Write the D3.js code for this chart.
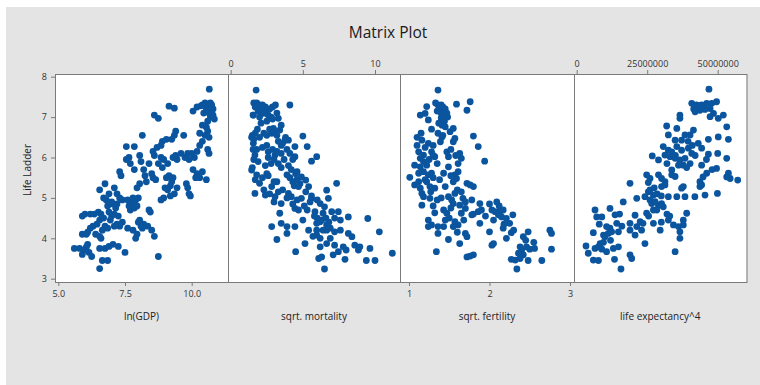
<!DOCTYPE html>
<html>
<head>
<meta charset="utf-8">
<script src="https://cdn.jsdelivr.net/npm/d3@7"></script>
<style>
  body { margin: 0; background: #fff; }
  svg { display: block; font-family: "Open Sans", "DejaVu Sans", sans-serif; }
</style>
</head>
<body>
<svg id="chart" width="760" height="385"></svg>
<script>
// ---- data ----
const yTicks = [3, 4, 5, 6, 7, 8];
const panelLabels = ["ln(GDP)", "sqrt. mortality", "sqrt. fertility", "life expectancy^4"];

const gdpTicks = [5.0, 7.5, 10.0];
const mortTicks = [0, 5, 10];
const fertTicks = [1, 2, 3];
const lifeTicks = [0, 25000000, 50000000];

// [ln(GDP), Life Ladder]
const gdpPoints = [
  [10.66,7.69],[10.5,7.35],[10.6,7.3],[10.7,7.35],[10.75,7.3],[10.8,7.2],[10.4,7.3],[10.35,7.28],[10.55,7.2],[10.65,7.1],
  [10.7,7.0],[10.8,7.05],[10.85,6.95],[10.75,7.15],[10.45,7.1],[10.6,6.9],[10.05,7.15],[10.2,7.25],[9.15,7.27],[9.35,7.22],
  [8.6,7.05],[8.75,6.97],[10.55,6.75],[10.6,6.65],[10.5,6.55],[10.65,6.5],[10.4,6.4],[10.3,6.3],[10.6,6.2],[10.65,6.1],
  [10.2,6.15],[10.1,6.0],[10.0,6.1],[9.85,6.1],[9.75,6.0],[9.9,5.95],[10.05,5.7],[10.2,5.6],[10.3,5.5],[10.4,5.65],
  [10.15,5.5],[10.55,5.45],[9.8,5.35],[9.85,5.25],[9.9,5.1],[9.95,5.05],[10.4,6.8],[10.3,6.6],[9.4,6.65],[9.35,6.55],
  [9.25,6.45],[9.7,6.55],[9.05,6.45],[8.9,6.4],[8.85,6.3],[8.7,6.25],[8.55,6.15],[8.6,6.05],[8.85,6.0],[8.95,5.95],
  [9.1,5.85],[9.3,6.0],[9.4,6.05],[9.45,5.95],[9.6,6.1],[8.75,5.85],[8.9,5.75],[8.4,5.85],[8.5,5.6],[8.55,5.5],
  [8.65,5.45],[8.15,6.55],[8.05,6.05],[8.1,5.9],[8.2,5.7],[8.25,5.55],[8.3,5.4],[8.05,5.35],[7.95,5.25],[7.85,5.7],
  [9.05,5.5],[9.15,5.55],[9.0,5.25],[9.1,5.2],[9.2,5.3],[9.3,5.5],[9.35,5.1],[9.45,5.25],[9.25,5.4],[8.95,5.0],
  [8.85,4.95],[9.2,5.05],[7.55,6.27],[7.65,6.0],[7.85,6.27],[7.55,5.95],[7.7,5.85],[7.3,5.65],[7.35,5.55],[7.1,5.25],
  [7.2,5.1],[8.4,4.7],[8.45,4.65],[8.5,4.2],[8.6,4.05],[8.75,3.55],[8.35,4.3],[8.2,4.35],[8.1,4.3],[8.05,4.45],
  [8.15,4.25],[8.0,4.4],[7.95,4.1],[7.9,4.0],[7.8,4.2],[7.8,5.0],[7.75,4.85],[7.9,4.95],[7.85,4.75],[7.95,4.8],
  [8.0,5.0],[7.7,4.7],[7.6,4.95],[7.65,4.8],[7.4,4.95],[7.3,5.0],[7.2,4.85],[7.15,4.75],[7.1,4.6],[7.25,4.55],
  [7.4,4.4],[7.3,4.3],[7.0,4.55],[6.95,4.45],[6.9,4.65],[6.85,4.8],[6.8,4.95],[6.7,5.0],[6.75,5.35],[6.55,5.2],
  [6.9,5.1],[7.0,4.9],[7.05,4.85],[5.9,4.55],[6.0,4.6],[6.2,4.6],[6.35,4.6],[6.5,4.65],[6.6,4.6],[6.7,4.5],
  [6.55,4.45],[6.45,4.35],[6.3,4.3],[6.2,4.25],[6.05,4.1],[5.9,4.1],[6.1,4.15],[6.4,4.1],[6.55,4.05],[6.65,4.2],
  [6.75,4.3],[6.85,4.25],[6.6,4.0],[5.6,3.75],[5.8,3.75],[5.95,3.7],[6.05,3.78],[5.9,3.6],[6.15,3.65],[6.25,3.55],
  [6.1,3.85],[6.55,3.75],[6.65,3.45],[6.55,3.25],[6.85,3.45],[6.75,3.75],[6.9,3.8],[7.05,3.85],[7.25,3.8],[7.5,3.65],
  [7.6,4.25],[7.1,4.3],[7.2,4.35]
];

// [sqrt. mortality, Life Ladder]
const mortPoints = [
  [1.76,7.67],[4.1,7.3],[1.57,7.05],[2.26,7.1],[3.3,6.97],[2.96,6.72],[3.4,6.68],[2.84,6.6],[1.45,6.5],[2.5,6.55],
  [5.0,6.53],[3.76,6.43],[4.0,6.43],[1.57,6.35],[3.5,6.3],[4.45,6.27],[5.3,6.27],[1.68,6.06],[2.6,6.14],[3.07,6.06],
  [4.1,6.1],[4.45,6.02],[5.96,6.02],[5.6,5.91],[1.45,5.69],[2.5,5.6],[1.8,5.57],[3.9,5.57],[4.6,5.65],[4.9,5.52],
  [5.2,5.44],[2.0,5.36],[3.2,5.4],[2.84,5.28],[4.7,5.28],[5.4,5.28],[7.34,5.36],[1.68,5.11],[2.4,5.07],[3.07,5.03],
  [4.0,5.11],[4.2,5.03],[4.9,4.99],[5.6,4.99],[6.65,5.19],[6.77,4.99],[3.5,4.86],[4.45,4.74],[4.7,4.7],[5.3,4.7],
  [5.84,4.66],[6.2,4.86],[6.5,4.78],[6.4,4.62],[7.0,4.66],[7.46,4.66],[8.15,4.53],[9.5,4.49],[3.4,4.62],[5.0,4.45],
  [5.96,4.37],[6.2,4.41],[6.65,4.33],[6.9,4.25],[6.4,4.2],[5.96,4.2],[2.84,4.29],[3.5,4.37],[3.9,4.29],[4.45,4.29],
  [3.9,4.12],[3.2,3.97],[5.96,4.08],[6.2,4.0],[6.65,4.2],[7.2,4.16],[7.6,4.2],[8.15,4.12],[8.4,4.04],[8.6,3.83],
  [8.95,3.79],[10.3,4.16],[5.15,3.87],[6.2,3.79],[6.65,3.87],[7.2,3.83],[7.8,3.79],[8.0,3.71],[8.85,3.71],[9.65,3.75],
  [4.5,3.67],[6.1,3.5],[6.3,3.54],[7.1,3.59],[7.46,3.67],[7.92,3.48],[9.4,3.45],[10.0,3.45],[11.2,3.63],[6.5,3.24],
  [1.6,7.35],[1.8,7.35],[2.0,7.3],[2.2,7.3],[2.4,7.25],[2.1,7.2],[2.5,7.15],[2.7,7.2],[2.9,7.25],[3.1,7.3],
  [2.3,7.1],[1.9,7.15],[1.7,7.25],[2.6,7.05],[2.8,7.0],[1.55,7.05],[3.2,7.1],[2.0,7.0],[1.5,6.55],[1.6,6.45],
  [1.7,6.6],[2.0,6.5],[2.3,6.6],[2.7,6.7],[3.0,6.65],[3.2,6.55],[3.3,6.4],[3.6,6.35],[3.8,6.5],[1.55,6.2],
  [1.8,6.2],[2.2,6.25],[2.5,6.3],[2.9,6.2],[3.2,6.15],[3.5,6.1],[3.7,5.95],[1.6,5.95],[1.9,5.9],[2.4,5.8],
  [2.8,5.85],[3.3,5.85],[3.5,5.75],[4.0,5.8],[4.2,5.7],[4.5,5.6],[4.6,5.45],[4.3,5.4],[4.1,5.5],[1.5,5.75],
  [1.7,5.45],[2.2,5.5],[2.6,5.55],[3.0,5.4],[3.6,5.2],[3.9,5.0],[4.3,4.85],[4.6,4.95],[5.1,4.8],[5.5,4.9],
  [5.8,4.55],[6.0,4.5],[6.3,4.45],[6.6,4.5],[6.8,4.4],[7.2,4.5],[7.6,4.45],[5.4,4.2],[5.7,4.05],[6.9,4.0],
  [2.3,5.2],[2.7,5.1],[3.3,5.15],[3.0,4.9],[2.6,6.0],[3.0,5.95],[3.9,6.2],[4.3,5.95],[1.85,6.7],[2.1,6.85],
  [2.5,6.9],[2.9,6.95],[3.5,6.8],[4.4,5.3],[4.8,5.35],[5.2,5.15],[5.6,5.05],[6.0,4.95]
];

// [sqrt. fertility, Life Ladder]
const fertPoints = [
  [1.36,7.67],[1.59,7.32],[1.76,7.38],[1.72,7.17],[1.14,7.05],[1.22,7.26],[1.2,7.09],[1.24,6.93],[1.45,6.76],[1.51,6.64],
  [1.55,6.72],[1.8,6.53],[1.1,6.5],[1.16,6.43],[1.24,6.35],[1.41,6.51],[1.39,6.39],[1.55,6.39],[1.57,6.47],[1.86,6.27],
  [1.12,6.14],[1.18,6.06],[1.14,5.98],[1.28,6.14],[1.32,6.02],[1.47,6.14],[1.49,6.02],[1.63,6.1],[1.65,5.98],[1.61,5.85],
  [1.94,5.91],[1.07,5.81],[1.14,5.77],[1.22,5.81],[1.49,5.77],[1.01,5.51],[1.12,5.61],[1.18,5.65],[1.24,5.57],[1.28,5.61],
  [1.43,5.61],[1.57,5.57],[1.59,5.48],[1.61,5.65],[1.07,5.32],[1.14,5.24],[1.16,5.11],[1.22,5.4],[1.26,5.28],[1.32,5.24],
  [1.45,5.28],[1.72,5.36],[1.76,5.32],[1.8,5.28],[1.18,5.03],[1.16,4.82],[1.26,4.99],[1.49,5.03],[1.53,4.95],[1.57,5.11],
  [1.55,4.86],[1.63,4.82],[1.67,4.99],[1.7,4.74],[1.78,4.95],[1.88,4.86],[1.32,4.63],[1.43,4.7],[1.47,4.62],[1.65,4.62],
  [1.78,4.58],[1.86,4.66],[1.88,4.37],[2.09,4.9],[2.03,4.7],[2.07,4.66],[2.13,4.66],[2.17,4.7],[2.11,4.58],[2.15,4.53],
  [2.21,4.49],[2.29,4.58],[2.25,4.37],[2.17,4.25],[1.24,4.45],[1.28,4.33],[1.24,4.29],[1.36,4.29],[1.43,4.29],[1.57,4.41],
  [1.61,4.33],[1.55,4.29],[1.36,4.12],[1.49,3.97],[1.63,3.87],[1.7,4.12],[1.72,4.04],[2.0,4.16],[2.03,3.83],[2.05,3.87],
  [2.21,4.0],[2.27,4.14],[2.42,4.04],[2.48,4.16],[2.75,4.2],[2.77,4.12],[1.34,3.67],[1.72,3.54],[1.76,3.56],[1.8,3.59],
  [2.38,3.79],[2.4,3.71],[2.46,3.79],[2.5,3.73],[2.56,3.75],[2.36,3.63],[2.42,3.59],[2.27,3.48],[2.32,3.46],[2.38,3.5],
  [2.48,3.45],[2.65,3.45],[2.77,3.73],[2.34,3.24],[1.33,7.35],[1.36,7.3],[1.4,7.3],[1.42,7.25],[1.38,7.2],[1.45,7.2],
  [1.4,7.1],[1.43,7.05],[1.47,7.1],[1.35,7.15],[1.48,7.0],[1.4,6.98],[1.37,6.85],[1.41,6.8],[1.44,6.9],[1.36,6.6],
  [1.42,6.55],[1.2,6.25],[1.3,6.3],[1.18,5.9],[1.25,5.95],[1.35,5.85],[1.52,6.2],[1.58,6.05],[1.2,5.45],[1.3,5.5],
  [1.52,5.55],[1.55,5.4],[1.38,5.45],[1.6,5.2],[1.65,5.15],[1.4,5.0],[1.35,4.95],[1.3,4.8],[1.52,4.75],[1.7,4.9],
  [1.45,4.45],[1.5,4.5],[1.68,4.45],[1.95,4.55],[2.05,4.45],[2.18,4.35],[2.3,4.2],[2.55,3.9],[2.45,3.95],[1.6,4.15],
  [1.8,4.6],[1.9,4.7],[2.0,4.85],[2.12,4.8],[1.1,6.3],[1.15,6.6],[1.28,6.7],[1.3,6.05],[1.12,5.4],[1.27,5.15]
];

// [life expectancy^4, Life Ladder]
const lifePoints = [
  [46.9e6,7.69],[40.8e6,7.34],[42.6e6,7.26],[44.3e6,7.3],[46.1e6,7.34],[47.9e6,7.34],[49.6e6,7.38],[42e6,7.13],[43.7e6,7.17],[45.5e6,7.19],
  [47.3e6,7.21],[48.5e6,7.09],[52e6,7.05],[47.3e6,7.01],[50.2e6,6.97],[36.6e6,7.05],[36.6e6,6.97],[31.9e6,6.78],[35.5e6,6.72],[41.4e6,6.68],
  [53.2e6,6.76],[38.4e6,6.56],[40.2e6,6.56],[37.2e6,6.43],[34.9e6,6.43],[32.5e6,6.56],[43.1e6,6.35],[46.7e6,6.45],[50.2e6,6.51],[53.8e6,6.45],
  [44.3e6,6.23],[30.7e6,6.27],[32.5e6,6.18],[33.7e6,6.14],[35.5e6,6.27],[37.2e6,6.18],[39.6e6,6.23],[40.8e6,6.1],[31.3e6,6.06],[33.1e6,6.02],
  [34.9e6,5.98],[36.6e6,5.94],[38.4e6,5.98],[40.2e6,5.85],[36.1e6,5.81],[37.8e6,5.81],[26.8e6,6.04],[29e6,5.94],[46.7e6,6.08],[50e6,6.1],
  [53.2e6,5.98],[44.3e6,5.81],[46.1e6,5.61],[49.6e6,5.73],[53.8e6,5.61],[54.4e6,5.48],[53.2e6,5.52],[57.1e6,5.44],[24.8e6,5.57],[26e6,5.48],
  [25.4e6,5.38],[29e6,5.57],[30.1e6,5.48],[31.3e6,5.4],[33.7e6,5.69],[33.7e6,5.57],[34.9e6,5.53],[18.9e6,5.36],[30.1e6,5.28],[31.3e6,5.32],
  [37.8e6,5.28],[43.7e6,5.4],[44.3e6,5.32],[44.8e6,5.52],[43.7e6,5.28],[21.3e6,4.99],[24.2e6,5.03],[25.4e6,5.15],[26e6,4.95],[26.6e6,4.86],
  [27.2e6,5.07],[27.8e6,4.91],[29e6,4.82],[30.1e6,4.86],[30.7e6,4.78],[28.4e6,4.7],[27.2e6,4.7],[24.8e6,4.62],[32.5e6,5.03],[35.5e6,5.03],
  [38.4e6,5.03],[41.9e6,5.03],[45.5e6,5.07],[49.9e6,5.11],[37.2e6,5.24],[16.5e6,4.9],[20.7e6,4.57],[18.9e6,4.37],[27.2e6,4.37],[32.5e6,4.45],
  [34.3e6,4.33],[36.1e6,4.29],[37.8e6,4.33],[39e6,4.62],[37.8e6,4.45],[36.6e6,4.16],[36.6e6,4.0],[34.9e6,3.67],[29.6e6,4.2],[6.5e6,4.7],
  [7.1e6,4.53],[8.9e6,4.53],[11.8e6,4.74],[13.6e6,4.58],[15.2e6,4.6],[10.6e6,4.29],[11.8e6,4.25],[12.4e6,4.16],[11.2e6,4.12],[9.5e6,4.08],
  [14.8e6,4.16],[14.2e6,4.37],[5.9e6,4.14],[18.9e6,4.2],[21.3e6,4.29],[23.5e6,4.37],[22.5e6,4.41],[20.7e6,4.08],[23e6,4.2],[3.3e6,3.81],
  [4.1e6,3.63],[6.5e6,3.75],[7.7e6,3.79],[8.3e6,3.87],[8.9e6,3.73],[10.6e6,3.67],[13e6,3.75],[14.8e6,3.79],[5.9e6,3.46],[7.7e6,3.45],
  [13.4e6,3.48],[18.9e6,3.59],[19.5e6,3.5],[24.2e6,3.87],[15.7e6,3.24],[10e6,4.04],[42.5e6,7.3],[44e6,7.22],[45e6,7.28],[41.5e6,7.2],
  [39.5e6,6.4],[41e6,6.3],[42e6,6.05],[39e6,5.75],[35e6,6.05],[32e6,5.85],[27.5e6,5.25],[28.5e6,5.1],[26e6,5.2],[30e6,5.05],
  [32e6,4.6],[33e6,4.55],[30e6,4.4],[25.5e6,4.55],[8e6,4.35],[12e6,3.95],[16e6,4.3],[9.5e6,3.9],[46e6,5.95],[48e6,5.7]
];

// ---- layout ----
const svg = d3.select("#chart");
const plotTop = 74, plotBottom = 282, plotLeft = 55;
const panelEdges = [55, 228, 400, 574, 746.5];
const dotColor = "#0b559f";
const axisColor = "#7a7a7a";
const textColor = "#333";

svg.append("rect").attr("x", 6).attr("y", 7).attr("width", 754).attr("height", 378).attr("fill", "#e4e4e4");

svg.append("text")
  .attr("x", 388).attr("y", 38)
  .attr("text-anchor", "middle")
  .attr("font-size", 15.5)
  .attr("fill", "#1a1a1a")
  .text("Matrix Plot");

const y = d3.scaleLinear().domain([3, 8]).range([278.7, 76.7]);

const panels = [
  { pts: gdpPoints, ticks: gdpTicks, where: "bottom", fmt: d3.format(".1f"), domain: [5.0, 10.0], px: [58.3, 191.7] },
  { pts: mortPoints, ticks: mortTicks, where: "top", fmt: d3.format("d"), domain: [0, 10], px: [230.7, 375] },
  { pts: fertPoints, ticks: fertTicks, where: "bottom", fmt: d3.format("d"), domain: [1, 3], px: [409, 570] },
  { pts: lifePoints, ticks: lifeTicks, where: "top", fmt: d3.format("d"), domain: [0, 50000000], px: [576.7, 717.7] }
];

panels.forEach((p, i) => {
  const x0 = panelEdges[i], x1 = panelEdges[i + 1];
  const x = d3.scaleLinear().domain(p.domain).range(p.px);

  svg.append("rect")
    .attr("x", x0).attr("y", plotTop)
    .attr("width", x1 - x0).attr("height", plotBottom - plotTop)
    .attr("fill", "#fff");

  const g = svg.append("g");
  g.selectAll("circle")
    .data(p.pts)
    .enter()
    .append("circle")
    .attr("cx", d => x(d[0]))
    .attr("cy", d => y(d[1]))
    .attr("r", 3.4)
    .attr("fill", dotColor);

  const ax = p.where === "bottom"
    ? d3.axisBottom(x).tickValues(p.ticks).tickFormat(p.fmt)
    : d3.axisTop(x).tickValues(p.ticks).tickFormat(p.fmt);
  const axG = svg.append("g")
    .attr("transform", "translate(0," + (p.where === "bottom" ? plotBottom : plotTop) + ")")
    .call(ax.tickSize(4).tickPadding(p.where === "bottom" ? 5 : 3));
  axG.select(".domain").remove();
  axG.selectAll("line").attr("stroke", axisColor);
  axG.selectAll("text").attr("fill", textColor).attr("font-size", 9).attr("font-family", "Open Sans, sans-serif");

  svg.append("text")
    .attr("x", (x0 + x1) / 2).attr("y", 320)
    .attr("text-anchor", "middle")
    .attr("font-size", 10)
    .attr("fill", "#222")
    .text(panelLabels[i]);
});

// y axis on first panel
const yAx = svg.append("g")
  .attr("transform", "translate(" + plotLeft + ",0)")
  .call(d3.axisLeft(y).tickValues(yTicks).tickFormat(d3.format("d")).tickSize(4).tickPadding(4));
yAx.select(".domain").remove();
yAx.selectAll("line").attr("stroke", axisColor);
yAx.selectAll("text").attr("fill", textColor).attr("font-size", 9).attr("font-family", "Open Sans, sans-serif");

svg.append("text")
  .attr("transform", "translate(31,170) rotate(-90)")
  .attr("text-anchor", "middle")
  .attr("font-size", 10)
  .attr("fill", "#222")
  .text("Life Ladder");

// panel frames
panelEdges.slice(0, 4).forEach((x0, i) => {
  svg.append("rect")
    .attr("x", x0 + 0.5).attr("y", plotTop + 0.5)
    .attr("width", panelEdges[i + 1] - x0).attr("height", plotBottom - plotTop)
    .attr("fill", "none")
    .attr("stroke", axisColor);
});
</script>
</body>
</html>
